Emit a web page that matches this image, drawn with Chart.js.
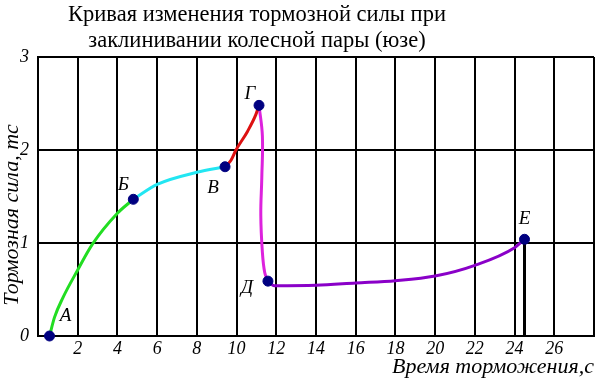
<!DOCTYPE html>
<html>
<head>
<meta charset="utf-8">
<script src="https://cdn.jsdelivr.net/npm/chart.js@4/dist/chart.umd.min.js"></script>
<style>
  html, body { margin: 0; padding: 0; background: #fff; }
  #wrap { position: relative; width: 600px; height: 383px; }
</style>
</head>
<body>
<div id="wrap"><canvas id="grafica"></canvas></div>
<script>
// Datos
const tituloLineas = ['Кривая изменения тормозной силы при', 'заклинивании колесной пары (юзе)'];
const tituloEjeX = 'Время торможения,с';
const tituloEjeY = 'Тормозная сила, тс';

const puntosNombres = ['А', 'Б', 'В', 'Г', 'Д', 'Е'];
const puntosX = [0.58, 4.8, 9.42, 11.13, 11.58, 24.5];
const puntosY = [0, 1.47, 1.82, 2.48, 0.59, 1.04];

// tramos de la curva
const tramoAB_x = [0.58, 0.83, 1.25, 2.0, 2.75, 4.0, 4.8];
const tramoAB_y = [0, 0.2, 0.41, 0.71, 0.99, 1.32, 1.47];
const tramoBV_x = [4.8, 6.0, 8.0, 9.42];
const tramoBV_y = [1.47, 1.63, 1.76, 1.82];
const tramoVG_x = [9.42, 9.72, 9.97, 10.55, 10.97, 11.13];
const tramoVG_y = [1.82, 1.89, 2.0, 2.2, 2.38, 2.48];
const tramoGD_x = [11.13, 11.3, 11.27, 11.22, 11.3, 11.42, 11.58];
const tramoGD_y = [2.48, 2.15, 1.7, 1.3, 0.9, 0.68, 0.59];
const tramoDE_x = [11.58, 11.9, 14.0, 16.0, 18.0, 20.0, 22.0, 24.0, 24.5];
const tramoDE_y = [0.59, 0.54, 0.545, 0.57, 0.595, 0.645, 0.76, 0.95, 1.04];
const lineaE_x = [24.5, 24.5];
const lineaE_y = [1.04, 0];

const ticksX = [0, 2, 4, 6, 8, 10, 12, 14, 16, 18, 20, 22, 24, 26, 28];
const ticksY = [0, 1, 2, 3];

const pares = (xs, ys) => xs.map((x, i) => ({ x: x, y: ys[i] }));

const fuenteSerif = '"Liberation Serif", "Times New Roman", serif';

const crearTramo = (xs, ys, color, modo) => ({
    type: 'line',
    data: pares(xs, ys),
    borderColor: color,
    borderWidth: 3,
    pointRadius: 0,
    tension: 0.4,
    cubicInterpolationMode: modo || 'default',
    fill: false,
    clip: false
});

// Textos dibujados sobre el lienzo: título, eje Y y letras de los puntos
const desplazamientos = [[16, -20], [-10, -14], [-12, 21], [-9, -11], [-21, 7], [0, -20]];
const pluginTextos = {
    id: 'textos',
    afterDraw(chart) {
        const ctx = chart.ctx;
        ctx.save();
        ctx.fillStyle = '#000';
        ctx.textAlign = 'center';
        ctx.textBaseline = 'alphabetic';
        ctx.font = '22.5px ' + fuenteSerif;
        ctx.fillText(tituloLineas[0], 257, 21);
        ctx.fillText(tituloLineas[1], 257, 47);

        ctx.save();
        ctx.translate(12, 215);
        ctx.rotate(-Math.PI / 2);
        ctx.font = 'italic 22px ' + fuenteSerif;
        ctx.textBaseline = 'middle';
        ctx.fillText(tituloEjeY, 0, 0);
        ctx.restore();

        const meta = chart.getDatasetMeta(0);
        ctx.font = 'italic 19px ' + fuenteSerif;
        ctx.textBaseline = 'middle';
        meta.data.forEach((p, i) => {
            ctx.fillText(puntosNombres[i], p.x + desplazamientos[i][0], p.y + desplazamientos[i][1]);
        });
        ctx.restore();
    }
};

const ctxGrafica = document.getElementById('grafica').getContext('2d');
const grafica = new Chart(ctxGrafica, {
    type: 'scatter',
    data: {
        datasets: [
            {
                type: 'scatter',
                data: pares(puntosX, puntosY),
                backgroundColor: '#000080',
                borderColor: '#000080',
                pointRadius: 5,
                clip: false
            },
            crearTramo(tramoAB_x, tramoAB_y, '#22dd22', 'monotone'),
            crearTramo(tramoBV_x, tramoBV_y, '#22e6f2', 'monotone'),
            crearTramo(tramoVG_x, tramoVG_y, '#dd1111', 'monotone'),
            crearTramo(tramoGD_x, tramoGD_y, '#dd22dd'),
            crearTramo(tramoDE_x, tramoDE_y, '#8a00c8', 'monotone'),
            { ...crearTramo(lineaE_x, lineaE_y, '#000000'), tension: 0 }
        ]
    },
    options: {
        responsive: true,
        maintainAspectRatio: false,
        animation: false,
        layout: { padding: { top: 57, right: 2, left: 0, bottom: 0 } },
        plugins: {
            legend: { display: false },
            tooltip: { enabled: false }
        },
        scales: {
            x: {
                type: 'linear',
                min: 0,
                max: 28,
                afterBuildTicks: (eje) => { eje.ticks = ticksX.map(v => ({ value: v })); },
                afterFit: (eje) => { eje.height = 47; },
                ticks: {
                    color: '#000',
                    padding: 2,
                    maxRotation: 0,
                    autoSkip: false,
                    font: { family: fuenteSerif, size: 18, style: 'italic' },
                    callback: (v) => (v === 0 || v === 28) ? '' : v
                },
                grid: { color: '#000', lineWidth: 2, drawTicks: false },
                border: { color: '#000', width: 2 },
                title: {
                    display: true,
                    text: tituloEjeX,
                    align: 'end',
                    color: '#000',
                    padding: { top: 0, bottom: 3 },
                    font: { family: fuenteSerif, size: 22, style: 'italic' }
                }
            },
            y: {
                type: 'linear',
                min: 0,
                max: 3,
                afterBuildTicks: (eje) => { eje.ticks = ticksY.map(v => ({ value: v })); },
                afterFit: (eje) => { eje.width = 38; },
                ticks: {
                    color: '#000',
                    padding: 9,
                    font: { family: fuenteSerif, size: 18, style: 'italic' }
                },
                grid: { color: '#000', lineWidth: 2, drawTicks: false },
                border: { color: '#000', width: 2 }
            }
        }
    },
    plugins: [pluginTextos]
});
</script>
</body>
</html>
